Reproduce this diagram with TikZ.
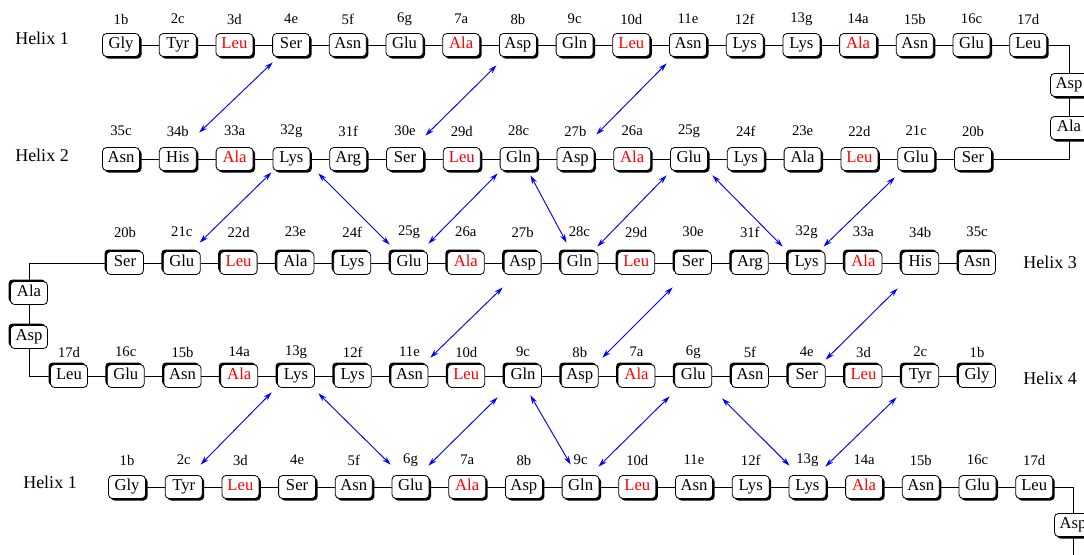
\documentclass[tikz,border=0pt]{standalone}
\usepackage{fontspec}
\setmainfont{Liberation Serif}
\usetikzlibrary{arrows.meta,shadows}
\tikzset{
 box/.style={draw, line width=0.6pt, rounded corners=3pt, fill=white, minimum width=27.75pt, minimum height=17.25pt, inner sep=0pt, text height=8.3pt, text depth=2.6pt, font=\fontsize{12.5}{14}\selectfont},
 shbr/.style={box, general shadow={fill=black, shadow xshift=1.5pt, shadow yshift=-1.5pt}},
 shtl/.style={box, general shadow={fill=black, shadow xshift=-1.5pt, shadow yshift=1.5pt}},
 lab/.style={inner sep=0pt, font=\fontsize{11}{13}\selectfont},
 helix/.style={inner sep=0pt, font=\fontsize{13.5}{16}\selectfont},
 conn/.style={draw, line width=0.6pt},
 pair/.style={draw=blue, line width=0.7pt, {Stealth[length=6.5pt,width=4pt]}-{Stealth[length=6.5pt,width=4pt]}},
}
\begin{document}
\begin{tikzpicture}[x=0.75pt, y=-0.75pt]
\useasboundingbox (0,0) rectangle (1084,554);
\clip (0,0) rectangle (1084,554);
\fill[white] (0,0) rectangle (1084,554);

% Helix labels
\node[helix] (h1) at (42,38) {Helix 1};
\node[helix] (h2) at (42,155) {Helix 2};
\node[helix] (h3) at (1050,262) {Helix 3};
\node[helix] (h4) at (1050,378) {Helix 4};
\node[helix] (h5) at (50,482) {Helix 1};

% Row 1
\foreach \n/\lab/\res/\c [count=\i from 0] in {1/1b/Gly/black, 2/2c/Tyr/black, 3/3d/Leu/red, 4/4e/Ser/black, 5/5f/Asn/black, 6/6g/Glu/black, 7/7a/Ala/red, 8/8b/Asp/black, 9/9c/Gln/black, 10/10d/Leu/red, 11/11e/Asn/black, 12/12f/Lys/black, 13/13g/Lys/black, 14/14a/Ala/red, 15/15b/Asn/black, 16/16c/Glu/black, 17/17d/Leu/black} {
  \node[shbr, text=\c] (r1-\n) at ({121+\i*56.7},45) {\res};
  \node[lab] (l1-\n) at ({121+\i*56.7},19) {\lab};
}
% Row 2
\foreach \n/\lab/\res/\c [count=\i from 0] in {35/35c/Asn/black, 34/34b/His/black, 33/33a/Ala/red, 32/32g/Lys/black, 31/31f/Arg/black, 30/30e/Ser/black, 29/29d/Leu/red, 28/28c/Gln/black, 27/27b/Asp/black, 26/26a/Ala/red, 25/25g/Glu/black, 24/24f/Lys/black, 23/23e/Ala/black, 22/22d/Leu/red, 21/21c/Glu/black, 20/20b/Ser/black} {
  \node[shbr, text=\c] (r2-\n) at ({121+\i*56.8},159) {\res};
  \node[lab] (l2-\n) at ({121+\i*56.8},131) {\lab};
}
% Row 3
\foreach \n/\lab/\res/\c [count=\i from 0] in {20/20b/Ser/black, 21/21c/Glu/black, 22/22d/Leu/red, 23/23e/Ala/black, 24/24f/Lys/black, 25/25g/Glu/black, 26/26a/Ala/red, 27/27b/Asp/black, 28/28c/Gln/black, 29/29d/Leu/red, 30/30e/Ser/black, 31/31f/Arg/black, 32/32g/Lys/black, 33/33a/Ala/red, 34/34b/His/black, 35/35c/Asn/black} {
  \node[shtl, text=\c] (r3-\n) at ({125+\i*56.8},263) {\res};
  \node[lab] (l3-\n) at ({125+\i*56.8},232) {\lab};
}
% Row 4
\foreach \n/\lab/\res/\c [count=\i from 0] in {17/17d/Leu/black, 16/16c/Glu/black, 15/15b/Asn/black, 14/14a/Ala/red, 13/13g/Lys/black, 12/12f/Lys/black, 11/11e/Asn/black, 10/10d/Leu/red, 9/9c/Gln/black, 8/8b/Asp/black, 7/7a/Ala/red, 6/6g/Glu/black, 5/5f/Asn/black, 4/4e/Ser/black, 3/3d/Leu/red, 2/2c/Tyr/black, 1/1b/Gly/black} {
  \node[shtl, text=\c] (r4-\n) at ({69+\i*56.75},376) {\res};
  \node[lab] (l4-\n) at ({69+\i*56.75},352) {\lab};
}
% Row 5
\foreach \n/\lab/\res/\c [count=\i from 0] in {1/1b/Gly/black, 2/2c/Tyr/black, 3/3d/Leu/red, 4/4e/Ser/black, 5/5f/Asn/black, 6/6g/Glu/black, 7/7a/Ala/red, 8/8b/Asp/black, 9/9c/Gln/black, 10/10d/Leu/red, 11/11e/Asn/black, 12/12f/Lys/black, 13/13g/Lys/black, 14/14a/Ala/red, 15/15b/Asn/black, 16/16c/Glu/black, 17/17d/Leu/black} {
  \node[shbr, text=\c] (r5-\n) at ({127+\i*56.7},487) {\res};
  \node[lab] (l5-\n) at ({127+\i*56.7},460) {\lab};
}

% loop residues
\node[shbr] (asp1) at (1069,85) {Asp};
\node[shbr] (ala1) at (1069,128) {Ala};
\node[shtl] (ala3) at (29,293) {Ala};
\node[shtl] (asp3) at (29,337) {Asp};
\node[shbr] (asp5) at (1073,525) {Asp};
\coordinate (bot) at (1073,560);

% chain connectors
\foreach \a [evaluate=\a as \b using int(\a+1)] in {1,...,16} {
  \draw[conn] (r1-\a) -- (r1-\b);
  \draw[conn] (r5-\a) -- (r5-\b);
}
\foreach \a [evaluate=\a as \b using int(\a-1)] in {35,34,...,21} \draw[conn] (r2-\a) -- (r2-\b);
\foreach \a [evaluate=\a as \b using int(\a+1)] in {20,...,34} \draw[conn] (r3-\a) -- (r3-\b);
\foreach \a [evaluate=\a as \b using int(\a-1)] in {17,16,...,2} \draw[conn] (r4-\a) -- (r4-\b);

\draw[conn] (r1-17.east) -| (asp1.north);
\draw[conn] (asp1) -- (ala1);
\draw[conn] (ala1.south) |- (r2-20.east);
\draw[conn] (r3-20.west) -| (ala3.north);
\draw[conn] (ala3) -- (asp3);
\draw[conn] (asp3.south) |- (r4-17.west);
\draw[conn] (r5-17.east) -| (asp5.north);
\draw[conn] (asp5.south) -- (bot);

% interaction arrows
\draw[pair] ([shift={(0.5,5.5)}]r1-4.south west) -- ([shift={(2.5,-14.5)}]r2-34.north east);
\draw[pair] ([shift={(-2.5,8.5)}]r1-8.south west) -- ([shift={(1.5,-11.5)}]r2-30.north east);
\draw[pair] ([shift={(-2.5,6.5)}]r1-11.south west) -- ([shift={(2,-12.5)}]r2-27.north east);

\draw[pair] ([shift={(-1,1.5)}]r2-32.south west) -- ([shift={(-1,-8.5)}]r3-21.north east);
\draw[pair] ([shift={(8,2.5)}]r2-32.south east) -- ([shift={(-0.5,-6.5)}]r3-25.north west);
\draw[pair] ([shift={(-2,2.5)}]r2-28.south west) -- ([shift={(0.5,-7.5)}]r3-25.north east);
\draw[pair] ([shift={(-7,4.5)}]r2-28.south east) -- ([shift={(6,-8.5)}]r3-28.north west);
\draw[pair] ([shift={(-3.5,4.5)}]r2-25.south west) -- ([shift={(-1,-4.5)}]r3-28.north east);
\draw[pair] ([shift={(4.5,4.5)}]r2-25.south east) -- ([shift={(-5,-4.5)}]r3-32.north west);
\draw[pair] ([shift={(-2.5,6.5)}]r2-21.south west) -- ([shift={(-2,-4.5)}]r3-32.north east);

\draw[pair] ([shift={(-1,12.5)}]r3-27.south west) -- ([shift={(2,-6.5)}]r4-11.north east);
\draw[pair] ([shift={(-1.5,12.5)}]r3-30.south west) -- ([shift={(3.75,-6.5)}]r4-8.north east);
\draw[pair] ([shift={(-3.7,13.5)}]r3-34.south west) -- ([shift={(0,-4.5)}]r4-4.north east);

\draw[pair] ([shift={(-5.5,4.5)}]r4-13.south west) -- ([shift={(-2,-10.5)}]r5-2.north east);
\draw[pair] ([shift={(3.5,5.5)}]r4-13.south east) -- ([shift={(-1,-10.5)}]r5-6.north west);
\draw[pair] ([shift={(-6.5,9.5)}]r4-9.south west) -- ([shift={(-1,-9.5)}]r5-6.north east);
\draw[pair] ([shift={(-11.5,7.5)}]r4-9.south east) -- ([shift={(9,-10.5)}]r5-9.north west);
\draw[pair] ([shift={(-4.75,8.5)}]r4-6.south west) -- ([shift={(-1,-8.5)}]r5-9.north east);
\draw[pair] ([shift={(10,10.5)}]r4-6.south east) -- ([shift={(1,-9.5)}]r5-13.north west);
\draw[pair] ([shift={(-4.75,9.5)}]r4-2.south west) -- ([shift={(-1,-8.5)}]r5-13.north east);
\end{tikzpicture}
\end{document}
